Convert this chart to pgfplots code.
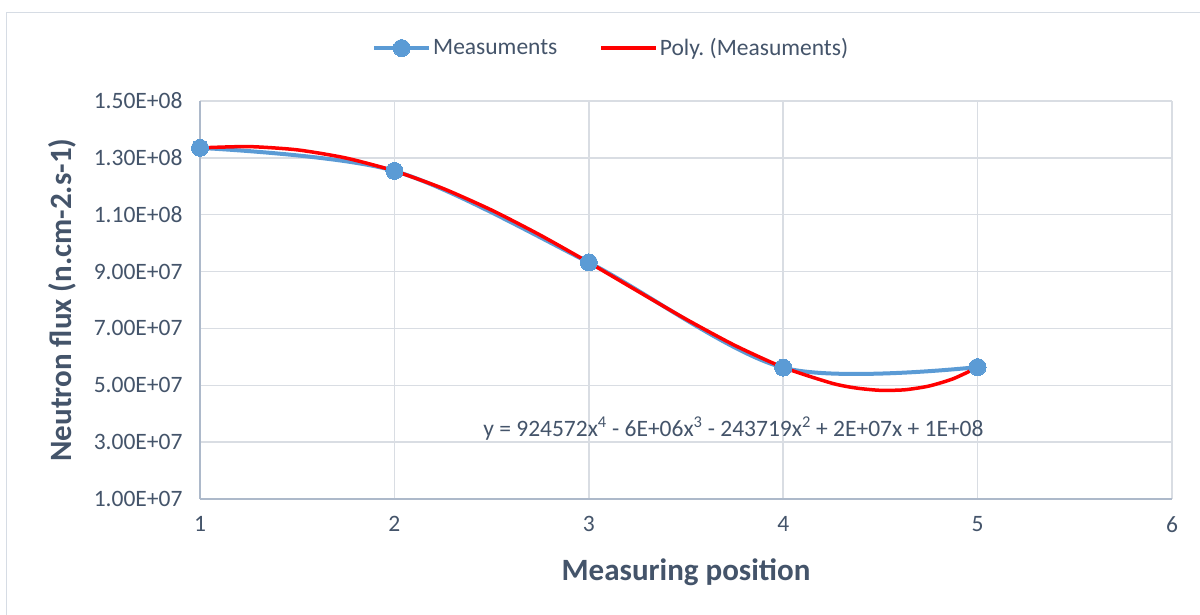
\documentclass[border=0pt]{standalone}
\usepackage{pgfplots}
\pgfplotsset{compat=1.18}
\usepackage{fontspec}
\setmainfont{Carlito}
\definecolor{txt}{HTML}{44546A}
\definecolor{blu}{HTML}{5B9BD5}
\definecolor{grd}{HTML}{D9DDE3}
\definecolor{axl}{HTML}{ADB9CA}
\definecolor{brd}{HTML}{D6DCE4}
\begin{document}
\frenchspacing
\begin{tikzpicture}[x=1bp,y=1bp]
\useasboundingbox (0,0) rectangle (1200,615);
\fill[white] (0,0) rectangle (1200,615);
\draw[brd,line width=1.5bp] (6.5,-5) -- (6.5,602.5) -- (1210,602.5);
\begin{axis}[
  at={(200bp,116bp)}, anchor=south west,
  scale only axis, width=972bp, height=398bp,
  xmin=1, xmax=6, ymin=1e7, ymax=1.5e8,
  xtick={1,2,3,4,5,6},
  xticklabels={1,2,3,4,5,6},
  ytick={1e7,3e7,5e7,7e7,9e7,1.1e8,1.3e8,1.5e8},
  yticklabels={1.00E+07,3.00E+07,5.00E+07,7.00E+07,9.00E+07,1.10E+08,1.30E+08,1.50E+08},
  scaled y ticks=false,
  xmajorgrids, ymajorgrids,
  grid style={grd,line width=1.5bp},
  major tick length=0pt,
  axis line style={axl,line width=1.5bp},
  axis x line*=bottom, axis y line*=left,
  tick label style={font=\fontsize{23.5bp}{27bp}\selectfont, text=txt},
  xticklabel style={yshift=-14bp},
  yticklabel style={xshift=-14bp},
  xlabel={\textbf{Measuring position}},
  ylabel={\textbf{Neutron flux (n.cm-2.s-1)}},
  label style={font=\fontsize{31bp}{35bp}\selectfont, text=txt},
  xlabel style={at={(axis description cs:0.5,-0.1834)}, anchor=center},
  ylabel style={at={(axis description cs:-0.142,0.5)}, anchor=center},
  legend columns=2,
  legend style={at={(rel axis cs:0.423,1.133)}, anchor=center, draw=none, fill=none,
    font=\fontsize{23.5bp}{27bp}\selectfont, text=txt,
    /tikz/every even column/.append style={column sep=40bp},
    inner sep=0pt},
  legend image code/.code={\draw[mark repeat=2,mark phase=2,#1] plot coordinates {(0bp,0bp) (27.5bp,0bp) (55bp,0bp)};},
  clip=false,
]
\addplot[blu, line width=4bp, smooth, tension=0.5, mark=*, mark size=8.5bp, mark options={fill=blu, draw=blu, line width=0pt}]
  coordinates {(1,1.335e8) (2,1.254e8) (3,9.32e7) (4,5.62e7) (5,5.64e7)};
\addlegendentry{Measuments}
\addplot[red, line width=3.5bp, smooth, tension=0.4]
  coordinates {(1,1.335e8) (1.25,1.3396e8) (1.5,1.3281e8) (1.75,1.2995e8) (2,1.254e8)
   (2.25,1.1923e8) (2.5,1.1162e8) (2.75,1.0283e8) (3,9.32e7) (3.25,8.317e7)
   (3.5,7.326e7) (3.75,6.407e7) (4,5.63e7) (4.25,5.073e7) (4.375,4.903e7) (4.5,4.822e7)
   (4.625,4.841e7) (4.75,4.973e7) (4.875,5.231e7) (5,5.63e7)};
\addlegendentry{Poly. (Measuments)}
\node[font=\fontsize{23.5bp}{27bp}\selectfont, text=txt, anchor=center] at (axis cs:3.744,3.49e7)
  {y = 924572x\textsuperscript{4} - 6E+06x\textsuperscript{3} - 243719x\textsuperscript{2} + 2E+07x + 1E+08};
\end{axis}
\end{tikzpicture}
\end{document}
